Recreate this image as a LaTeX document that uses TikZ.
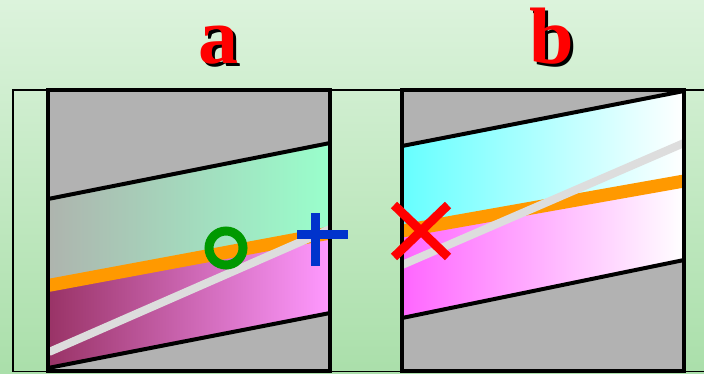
\documentclass[tikz,border=0pt]{standalone}
\usepackage{fontspec}
\setmainfont{Liberation Serif}
\definecolor{bgtop}{HTML}{DCF3DC}
\definecolor{bgbot}{HTML}{AADFAA}
\definecolor{panelgray}{HTML}{B2B2B2}
\definecolor{tealA}{HTML}{AEB4AE}
\definecolor{tealB}{HTML}{99FFCC}
\definecolor{magA}{HTML}{993366}
\definecolor{magB}{HTML}{FF99FF}
\definecolor{cyanL}{HTML}{66FFFF}
\definecolor{pinkL}{HTML}{FF66FF}
\definecolor{orangeL}{HTML}{FF9900}
\definecolor{whiteL}{HTML}{DDDDDD}
\definecolor{greenO}{HTML}{009900}
\definecolor{blueP}{HTML}{0033CC}
\definecolor{redX}{HTML}{FF0000}
\tikzset{
  panelframe/.style={draw=black,line width=4pt,line join=miter},
  bandline/.style={draw=black,line width=4pt},
  orangeline/.style={draw=orangeL,line width=13pt},
  whiteline/.style={draw=whiteL,line width=8pt},
  labeltext/.style={font=\fontsize{80}{80}\selectfont\bfseries,inner sep=0pt,anchor=base},
}
\begin{document}
\begin{tikzpicture}[x=1pt,y=-1pt]
\useasboundingbox (0,0) rectangle (704,373);
\shade[top color=bgtop,bottom color=bgbot] (0,0) rectangle (704,373);
\draw[line width=1.2pt] (13,371.5) -- (13,90) -- (710,90);
\draw[line width=1.2pt] (13,371.5) -- (710,371.5);

% labels (black shadow, then red)
\node[labeltext,text=black] (la-s) at (221,66) {a};
\node[labeltext,text=redX] (la) at (218,63) {a};
\node[labeltext,text=black] (lb-s) at (555,66) {b};
\node[labeltext,text=redX] (lb) at (552,63) {b};

% panel a
\fill[panelgray] (48,90) rectangle (330,371);
\shade[left color=tealA,right color=tealB] (48,199) -- (330,143) -- (330,232) -- (48,285) -- cycle;
\shade[left color=magA,right color=magB] (48,285) -- (330,232) -- (330,313) -- (48,368) -- cycle;
\draw[bandline] (48,199) -- (330,143);
\draw[bandline] (48,368) -- (330,313);
\draw[orangeline] (48,285.5) -- (330,233);
\draw[whiteline] (49,352) -- (330,229);
\draw[panelframe] (48,90) rectangle (330,371);
\draw[draw=greenO,line width=9pt] (226,248) circle (17);
\draw[draw=blueP,line width=9pt] (297,234) -- (348,234);
\draw[draw=blueP,line width=9pt] (315,213) -- (315,266);

% panel b
\fill[panelgray] (402,90) rectangle (684,371);
\shade[left color=cyanL,right color=white] (402,146) -- (684,91) -- (684,180) -- (402,230) -- cycle;
\shade[left color=pinkL,right color=white] (402,230) -- (684,180) -- (684,260) -- (402,318) -- cycle;
\draw[bandline] (402,146) -- (684,91);
\draw[bandline] (402,318) -- (684,260);
\draw[orangeline] (402,231) -- (684,181);
\draw[whiteline] (402,265) -- (684,143);
\draw[panelframe] (402,90) rectangle (684,371);
\draw[draw=redX,line width=9pt] (394,205) -- (448,257);
\draw[draw=redX,line width=9pt] (448,205) -- (394,257);
\end{tikzpicture}
\end{document}
